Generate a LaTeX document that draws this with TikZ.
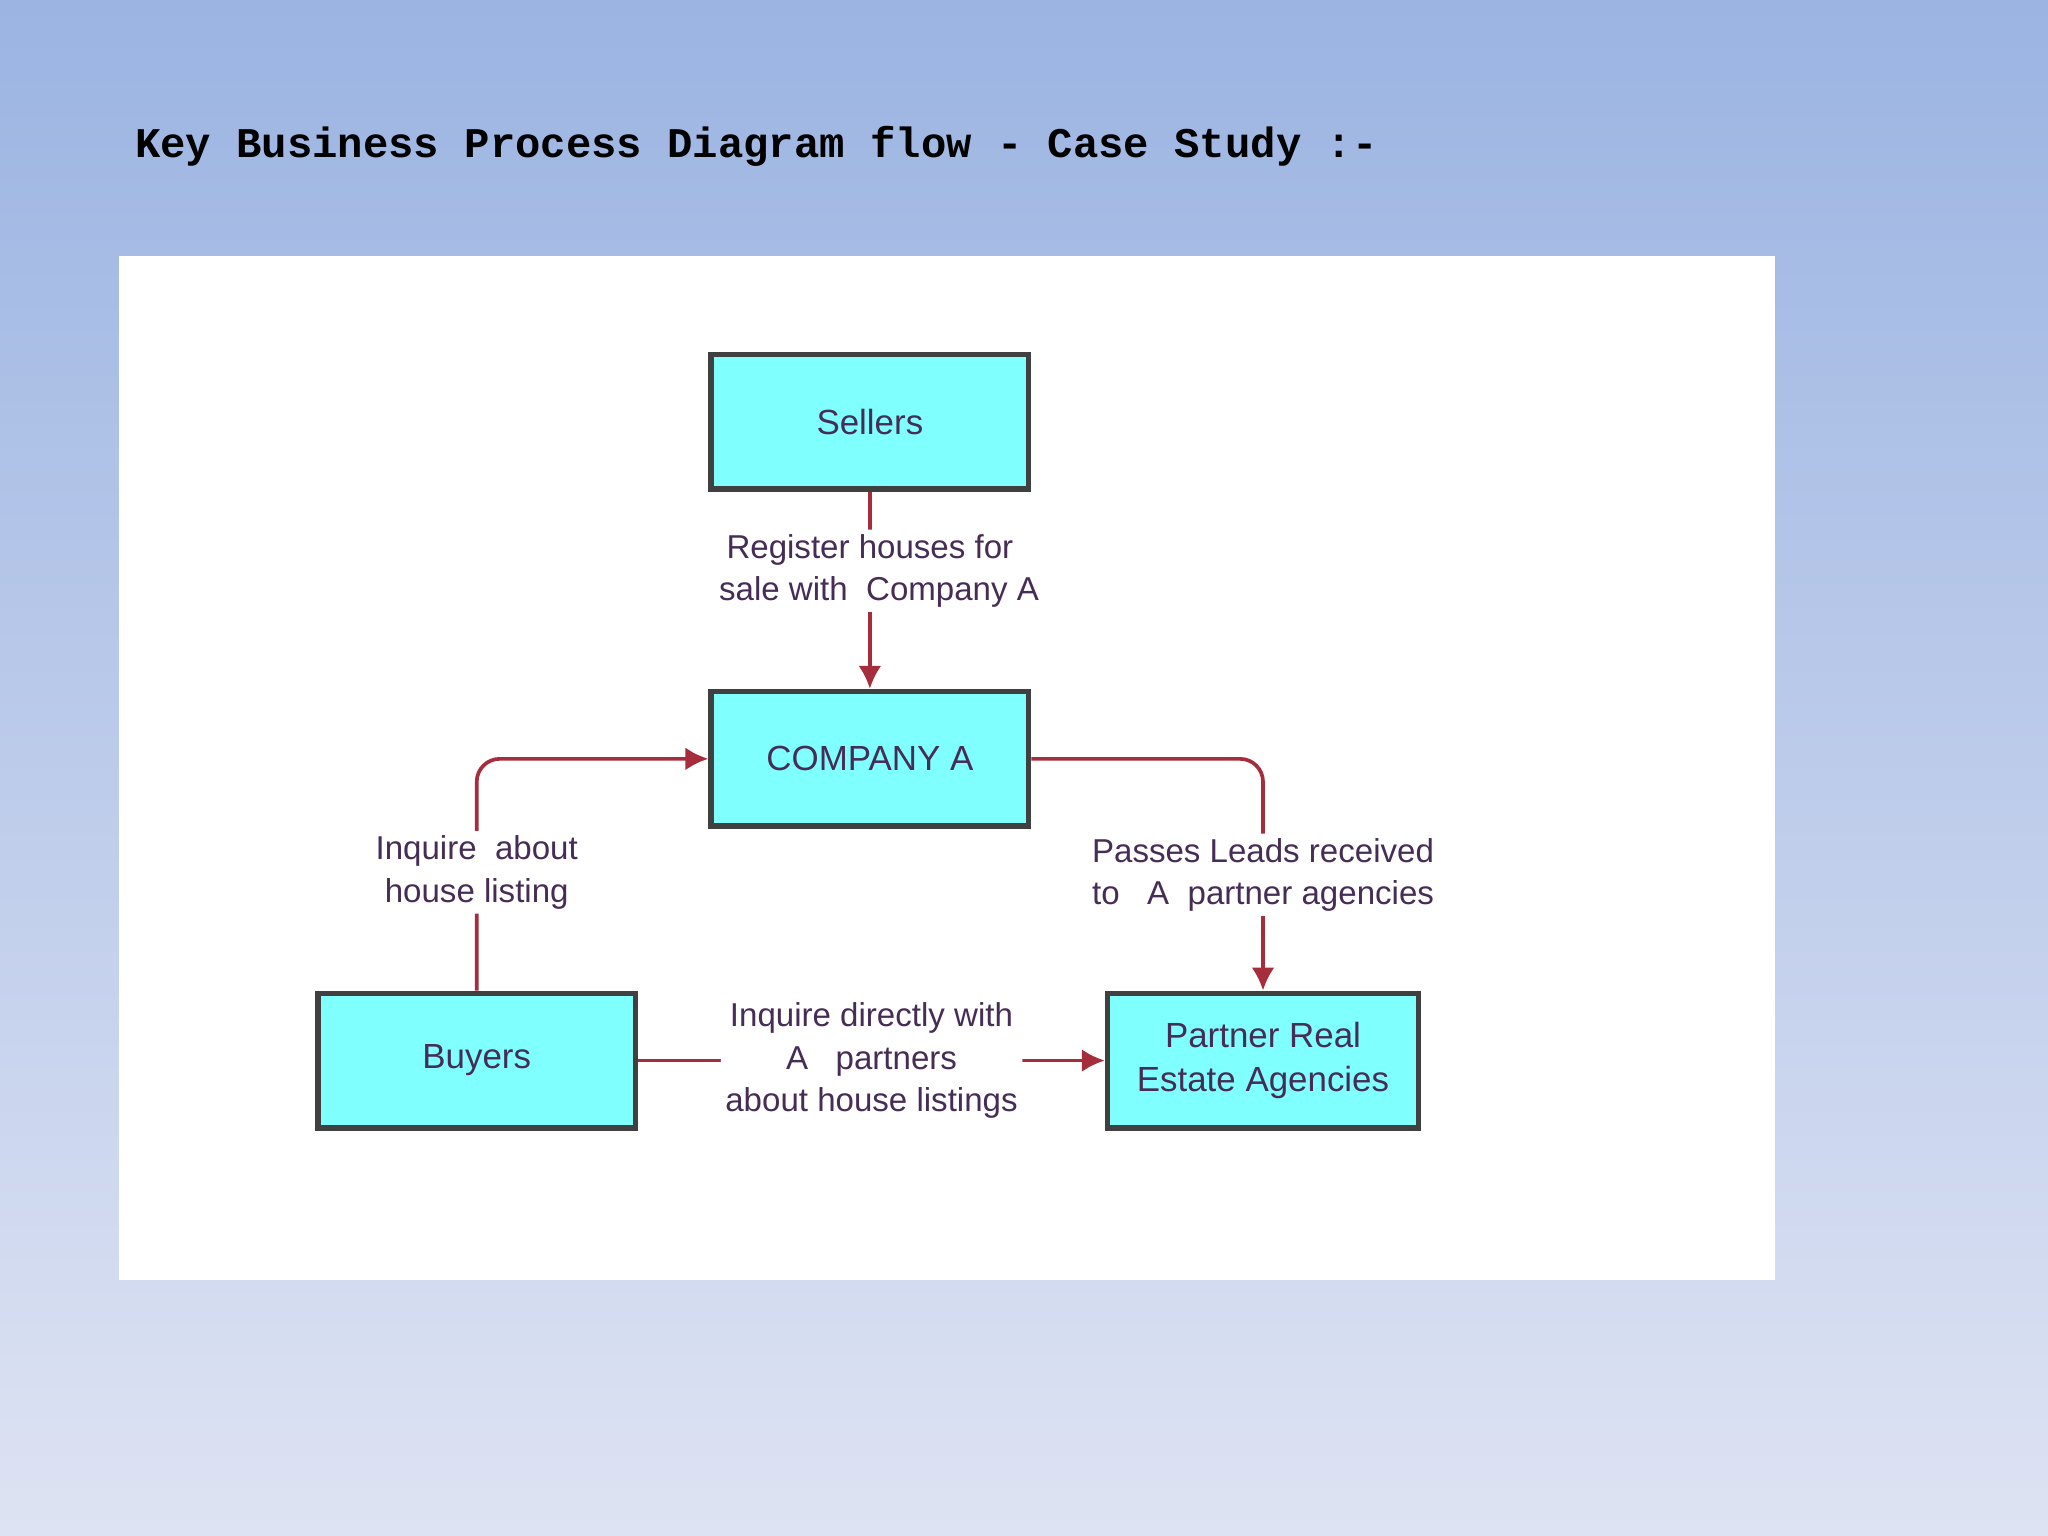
\documentclass[tikz,border=0pt]{standalone}
\usepackage{fontspec}
\setmainfont{Liberation Sans}
\newfontfamily\monof{Liberation Mono}
\usetikzlibrary{arrows.meta}
\definecolor{bgtop}{RGB}{155,180,226}
\definecolor{bgbot}{RGB}{222,227,243}
\definecolor{boxfill}{RGB}{128,255,255}
\definecolor{linec}{RGB}{165,45,60}
\definecolor{txtc}{RGB}{70,45,85}
\begin{document}
\begin{tikzpicture}[x=0.01cm,y=-0.01cm,
  box/.style={draw=black!75,line width=1.2pt,fill=boxfill,minimum width=2.43cm,minimum height=1.03cm,inner sep=0pt,font=\fontsize{7.6}{9.5}\selectfont,text=txtc,align=center},
  conn/.style={draw=linec,line width=0.8pt,-{Latex[length=5pt,width=5pt]},rounded corners=5pt},
  lbl/.style={fill=white,inner sep=1pt,font=\fontsize{7.2}{9.2}\selectfont,text=txtc,align=center}]
\shade[top color=bgtop,bottom color=bgbot] (0,0) rectangle (1568,1176);
\useasboundingbox (0,0) rectangle (1568,1176);
\node[anchor=west,font=\monof\bfseries\fontsize{9.2}{11}\selectfont] (title) at (91,112) {Key Business Process Diagram flow - Case Study :-};
\fill[white] (91,196) rectangle (1359,980);
\node[box] (sellers) at (666,323) {Sellers};
\node[box] (comp) at (666,581) {COMPANY A};
\node[box] (buyers) at (365,812) {Buyers};
\node[box,minimum width=2.38cm] (partner) at (967,812) {Partner Real\\Estate Agencies};
\coordinate (bc) at (365,581);
\coordinate (pc) at (967,581);
\draw[conn] (sellers) -- node[lbl,pos=0.4]{Register houses for\\\ \ sale with \ Company A} (comp);
\draw[conn] (buyers) -- node[lbl,pos=0.51]{Inquire \ about\\house listing} (bc) -- (comp);
\draw[conn] (comp) -- (pc) -- node[lbl,pos=0.5]{Passes Leads received\\to \ \ A \ partner agencies} (partner);
\draw[conn] (buyers) -- node[lbl,pos=0.5]{Inquire directly with\\A \ \ partners\\about house listings} (partner);
\end{tikzpicture}
\end{document}
